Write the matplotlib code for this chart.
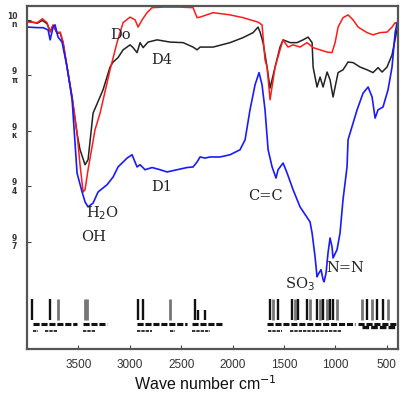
import matplotlib
matplotlib.use("Agg")
import matplotlib.pyplot as plt

# ---- data (wavenumber cm-1, transmittance arbitrary %) ----
do_wn = [4000, 3990, 3900, 3850, 3805, 3775, 3746, 3707, 3678, 3649, 3610, 3561, 3513, 3484, 3454,
         3435, 3406, 3338, 3289, 3192, 3124, 3065, 2997, 2948, 2919, 2880, 2832, 2783, 2676, 2511,
         2384, 2345, 2316, 2189, 2024, 1898, 1752, 1713, 1684, 1664, 1635, 1586, 1538, 1508, 1460,
         1411, 1343, 1275, 1216, 1148, 1080, 1032, 1002, 973, 925, 876, 827, 778, 691, 633, 565,
         497, 448, 418, 390]
do_t = [100.0, 99.6, 99.5, 100.2, 99.5, 97.8, 99.1, 97.7, 97.8, 96.0, 91.5, 86.1, 79.6, 73.9, 69.0,
        69.4, 73.0, 80.2, 83.2, 91.0, 95.9, 99.5, 100.5, 100.0, 98.7, 100.0, 101.3, 102.2, 102.3, 102.3,
        102.2, 100.4, 100.5, 101.3, 100.9, 100.4, 99.6, 99.1, 92.8, 91.5, 85.6, 91.5, 94.6, 96.4, 95.1,
        95.5, 95.1, 95.9, 95.0, 94.6, 94.2, 94.1, 95.9, 98.7, 100.4, 100.9, 100.0, 98.7, 97.7, 97.3, 97.7,
        97.8, 98.7, 99.5, 99.1]

d4_wn = [4000, 3900, 3850, 3805, 3775, 3746, 3707, 3678, 3649, 3610, 3561, 3513, 3484, 3435, 3406,
         3357, 3260, 3192, 3162, 3114, 3065, 2997, 2968, 2929, 2900, 2870, 2822, 2734, 2608, 2481,
         2384, 2345, 2316, 2189, 2024, 1898, 1800, 1752, 1732, 1703, 1664, 1635, 1586, 1538, 1508,
         1440, 1372, 1314, 1265, 1226, 1216, 1178, 1148, 1119, 1080, 1051, 1022, 1002, 973, 925,
         876, 827, 759, 691, 633, 584, 545, 497, 448, 390]
d4_t = [99.8, 99.4, 99.9, 99.3, 97.9, 99.0, 97.6, 97.7, 95.9, 91.4, 86.0, 79.5, 76.6, 73.9, 74.8,
        83.2, 87.4, 91.5, 92.4, 93.2, 94.6, 95.5, 95.0, 94.1, 95.9, 95.0, 96.0, 96.4, 96.0, 95.9,
        95.1, 94.6, 95.1, 95.1, 95.9, 96.8, 97.7, 98.7, 97.8, 95.9, 91.5, 87.7, 91.5, 95.1, 96.4,
        95.9, 95.9, 96.4, 96.9, 95.9, 91.5, 87.9, 89.7, 87.9, 90.6, 89.2, 86.1, 87.9, 90.5, 91.0,
        92.4, 92.3, 91.5, 91.0, 90.5, 91.4, 90.6, 91.5, 93.7, 99.1]

d1_wn = [4000, 3990, 3900, 3844, 3795, 3775, 3746, 3727, 3698, 3659, 3610, 3561, 3513, 3464, 3435,
         3406, 3357, 3308, 3221, 3162, 3114, 3026, 2978, 2929, 2900, 2851, 2783, 2705, 2637, 2540,
         2442, 2384, 2345, 2316, 2267, 2219, 2121, 2024, 1927, 1878, 1830, 1781, 1742, 1713, 1684,
         1654, 1615, 1577, 1557, 1508, 1469, 1411, 1343, 1246, 1226, 1197, 1178, 1168, 1139, 1119,
         1109, 1090, 1071, 1051, 1032, 1022, 983, 954, 925, 886, 876, 788, 730, 681, 642, 613, 584,
         536, 487, 448, 418, 399]
d1_t = [98.7, 98.7, 98.6, 98.6, 98.2, 96.4, 98.7, 99.1, 96.9, 96.0, 91.5, 85.6, 72.4, 69.0, 67.2,
        66.3, 67.0, 69.0, 70.3, 71.7, 73.5, 75.1, 75.7, 73.5, 73.9, 73.0, 73.4, 73.0, 72.6, 73.0,
        73.4, 73.5, 74.4, 75.3, 75.1, 75.3, 75.3, 75.7, 76.6, 78.4, 83.8, 88.3, 90.5, 88.3, 83.8,
        76.6, 73.5, 71.5, 73.0, 74.2, 72.4, 69.4, 66.3, 63.6, 61.6, 57.3, 53.7, 54.1, 55.0, 53.2,
        52.8, 54.4, 58.0, 60.7, 59.1, 57.1, 58.6, 61.6, 67.6, 73.5, 78.4, 83.8, 86.8, 87.9, 86.1, 82.3, 83.8,
        84.3, 87.4, 91.5, 97.7, 99.5]

# reference stick spectrum at the bottom
stick_wn = [3951, 3775, 3698, 3435, 3415, 2919, 2870, 2608, 2365, 2335, 2267, 1635, 1606, 1557,
            1421, 1392, 1362, 1275, 1246, 1178, 1148, 1119, 1080, 1051, 1022, 983, 740, 691, 642,
            594, 536, 487]
stick_top = [49.7, 49.7, 49.7, 49.7, 49.7, 49.7, 49.7, 49.7, 49.7, 47.7, 47.7, 49.7, 49.7, 49.7,
             49.7, 49.7, 49.7, 49.7, 49.7, 49.7, 49.7, 49.7, 49.7, 49.7, 49.7, 49.7, 49.7, 49.7, 49.7,
             49.7, 49.7, 49.7]
stick_gray = [0, 0, 1, 1, 1, 0, 0, 1, 0, 0, 0, 0, 1, 0, 0, 1, 0, 0, 1, 0, 1, 0, 1, 0, 0, 1,
              1, 0, 1, 0, 0, 1]
stick_base = 45.9

# illegible caption strips under the sticks (start, end, level, width)
strip_start = [3941, 3454, 2929, 2394, 1664, 778, 3941, 3824, 3454, 2929, 2608, 2394, 1654, 1440, 740]
strip_end = [3513, 3221, 2442, 2092, 808, 360, 3892, 3698, 3338, 2783, 2559, 2219, 1518, 934, 390]
strip_level = [45.2, 45.2, 45.2, 45.2, 45.2, 45.2, 44.0, 44.0, 44.0, 44.0, 44.0, 44.0, 44.0, 44.0, 44.6]
strip_lw = [2.2, 2.2, 2.2, 2.2, 2.2, 2.2, 1.2, 1.2, 1.2, 1.2, 1.2, 1.2, 1.2, 1.2, 2.4]

x_ticks = [3500, 3000, 2500, 2000, 1500, 1000, 500]
x_ticklabels = ["3500", "3000", "2500", "2000", "1500", "1000", "500"]
y_ticks = [100, 90, 80, 70, 60]
y_ticklabels = ["10\nn", "9\nπ", "9\nκ", "9\n4", "9\n7"]

labels_txt = ["Do", "D4", "D1", "H$_2$O", "OH", "C=C", "N=N", "SO$_3$"]
labels_x = [3085, 2686, 2686, 3260, 3357, 1684, 905, 1343]
labels_y = [97.3, 92.8, 69.9, 65.2, 60.9, 68.3, 55.3, 52.4]

# ---- figure ----
fig = plt.figure(figsize=(4.01, 4.04), dpi=100)
ax = fig.add_axes([27 / 401, 1 - 349 / 404, 371 / 401, 343 / 404])

ax.plot(d4_wn, d4_t, color="#222222", lw=1.1)
ax.plot(do_wn, do_t, color="#ff1a1a", lw=1.1)
ax.plot(d1_wn, d1_t, color="#1a1aff", lw=1.2)

for w, top, g in zip(stick_wn, stick_top, stick_gray):
    ax.vlines(w, stick_base, top, color="#777777" if g else "#111111", lw=2.0 if g else 1.7)

for s, e, lv, lw in zip(strip_start, strip_end, strip_level, strip_lw):
    ax.hlines(lv, s, e, color="#111111", lw=lw, linestyles=(0, (2.0, 0.6)))

for t, x, y in zip(labels_txt, labels_x, labels_y):
    ax.text(x, y, t, ha="center", va="center", fontsize=10.5, family="DejaVu Serif",
            color="#222222")

ax.set_xlim(4000, 390)
ax.set_ylim(40.7, 102.5)
ax.set_xticks(x_ticks)
ax.set_xticklabels(x_ticklabels, fontsize=8.5, color="#333333", family="Liberation Sans")
ax.set_yticks(y_ticks)
ax.set_yticklabels(y_ticklabels, fontsize=5.5, color="#333333", fontweight="bold",
                   linespacing=0.9)
ax.tick_params(direction="in", length=3, width=0.8, colors="#444444", pad=6)
ax.tick_params(axis="x", labelcolor="#333333", pad=7)
ax.tick_params(axis="y", labelcolor="#333333", pad=7)
for sp in ax.spines.values():
    sp.set_color("#555555")
    sp.set_linewidth(1.6)

fig.text(205 / 401, 1 - 384 / 404, "Wave number cm$^{-1}$", ha="center", va="center",
         fontsize=11.5, family="Liberation Sans", color="#111111")

fig.savefig("out.png", dpi=100)
